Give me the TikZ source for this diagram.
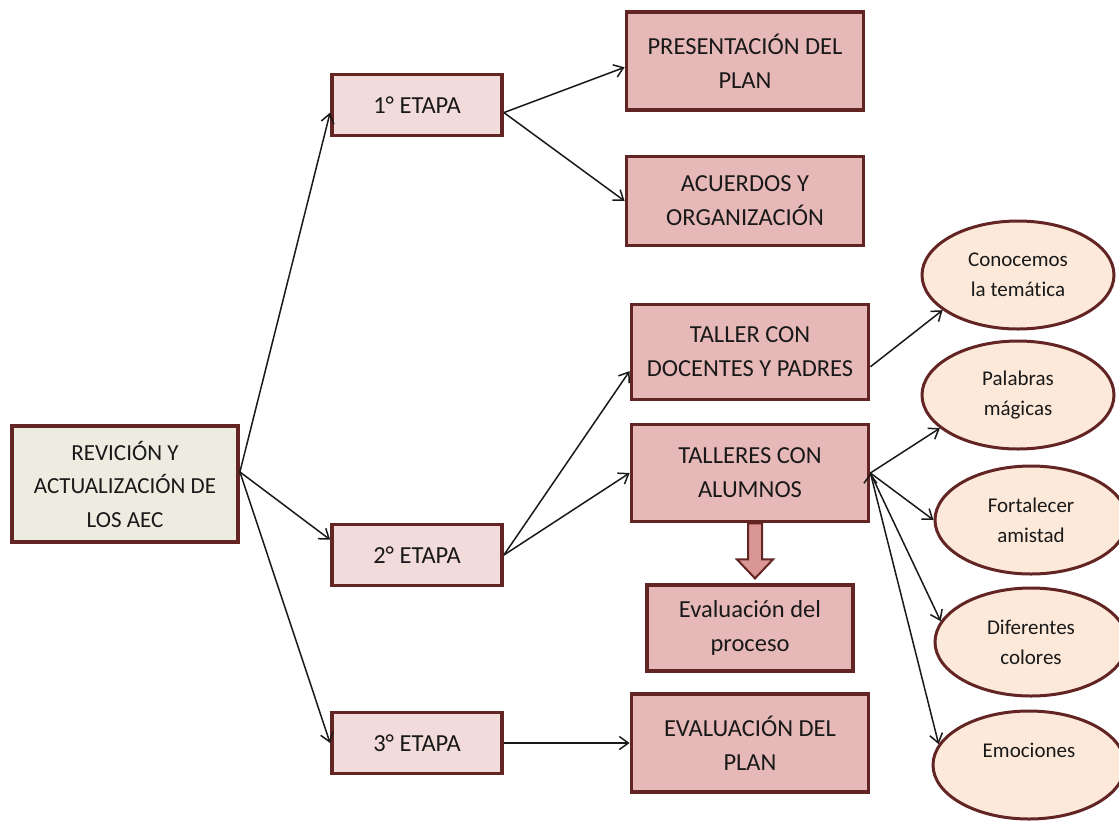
\documentclass[tikz,border=0pt]{standalone}
\usepackage{fontspec}
\setmainfont{Carlito}[Ligatures=NoCommon]
\usetikzlibrary{arrows.meta,shapes.geometric,calc}

\definecolor{borde}{HTML}{632523}
\definecolor{crema}{HTML}{EEECE1}
\definecolor{rosaclaro}{HTML}{F2DCDB}
\definecolor{rosa}{HTML}{E6B9B8}
\definecolor{durazno}{HTML}{FDE9D9}
\definecolor{rosaflecha}{HTML}{D99694}

\begin{document}
\begin{tikzpicture}[x=1pt, y=-1pt, >={Straight Barb[length=9pt,width=13pt]}]
\tikzstyle{caja}=[draw=borde, line width=3.8pt, align=center, text=black!90, font=\fontsize{24.5}{34}\selectfont, inner sep=2pt]
\tikzstyle{raiz}=[caja, fill=crema, minimum width=226pt, minimum height=116pt, font=\fontsize{23}{33.5}\selectfont]
\tikzstyle{etapa}=[caja, fill=rosaclaro, minimum width=170pt, minimum height=61pt]
\tikzstyle{tarea}=[caja, fill=rosa, minimum width=237pt, minimum height=97pt]
\tikzstyle{tema}=[ellipse, draw=borde, line width=3pt, fill=durazno, text=black!90, minimum width=192pt, minimum height=108pt, align=center, font=\fontsize{21}{30}\selectfont]
\tikzstyle{flecha}=[->, draw=black!90, line width=1.5pt]

\useasboundingbox (0,0) rectangle (1119,820);
\clip (0,0) rectangle (1119,820);

\node[raiz]  (revision) at (125,484) {REVICIÓN Y\\ACTUALIZACIÓN DE\\LOS AEC};
\node[etapa] (etapa1)   at (417,105) {1° ETAPA};
\node[etapa] (etapa2)   at (417,555) {2° ETAPA};
\node[etapa] (etapa3)   at (417,743) {3° ETAPA};

\node[tarea, minimum height=98pt] (presentacion) at (745,61)  {PRESENTACIÓN DEL\\PLAN};
\node[tarea, minimum height=89pt] (acuerdos)     at (745,201) {ACUERDOS Y\\ORGANIZACIÓN};
\node[tarea, minimum height=95pt] (docentes)     at (750,352) {TALLER CON\\DOCENTES Y PADRES};
\node[tarea]                      (alumnos)      at (750,473) {TALLERES CON\\ALUMNOS};
\node[tarea, minimum width=206pt, minimum height=86pt] (proceso) at (750,628) {Evaluación del\\proceso};
\node[tarea, minimum height=98pt] (plan)         at (750,743) {EVALUACIÓN DEL\\PLAN};

\node[tema] (conocemos)  at (1018,275) {Conocemos\\la temática};
\node[tema] (palabras)   at (1018,395) {Palabras\\mágicas};
\node[tema] (fortalecer) at (1031,520) {Fortalecer\\amistad};
\node[tema] (diferentes) at (1031,642) {Diferentes\\colores};
\node[tema] (emociones)  at (1029,765) {Emociones\\ \mbox{}};

% flecha gruesa hacia la evaluacion
\coordinate (baja) at ($(alumnos.south)+(5,0)$);
\draw[draw=borde, fill=rosaflecha, line width=2pt] (baja) ++(-7,0) -- ++(0,36) -- ++(-11,0) -- ++(18,19) -- ++(18,-19) -- ++(-11,0) -- ++(0,-36) -- cycle;

\path[flecha]
(revision.6)   edge (etapa1.185)
               edge (etapa2.170)
               edge (etapa3.west)
(etapa1.355)   edge (presentacion.183)
               edge (acuerdos.west)
(etapa2.east)  edge (docentes.189)
               edge (alumnos.west)
(etapa3.east)  edge (plan.west)
(docentes.353) edge (conocemos.205)
(alumnos.east) edge (palabras.203)
               edge (fortalecer.west)
               edge (diferentes.167)
               edge (emociones.167);
\end{tikzpicture}
\end{document}
